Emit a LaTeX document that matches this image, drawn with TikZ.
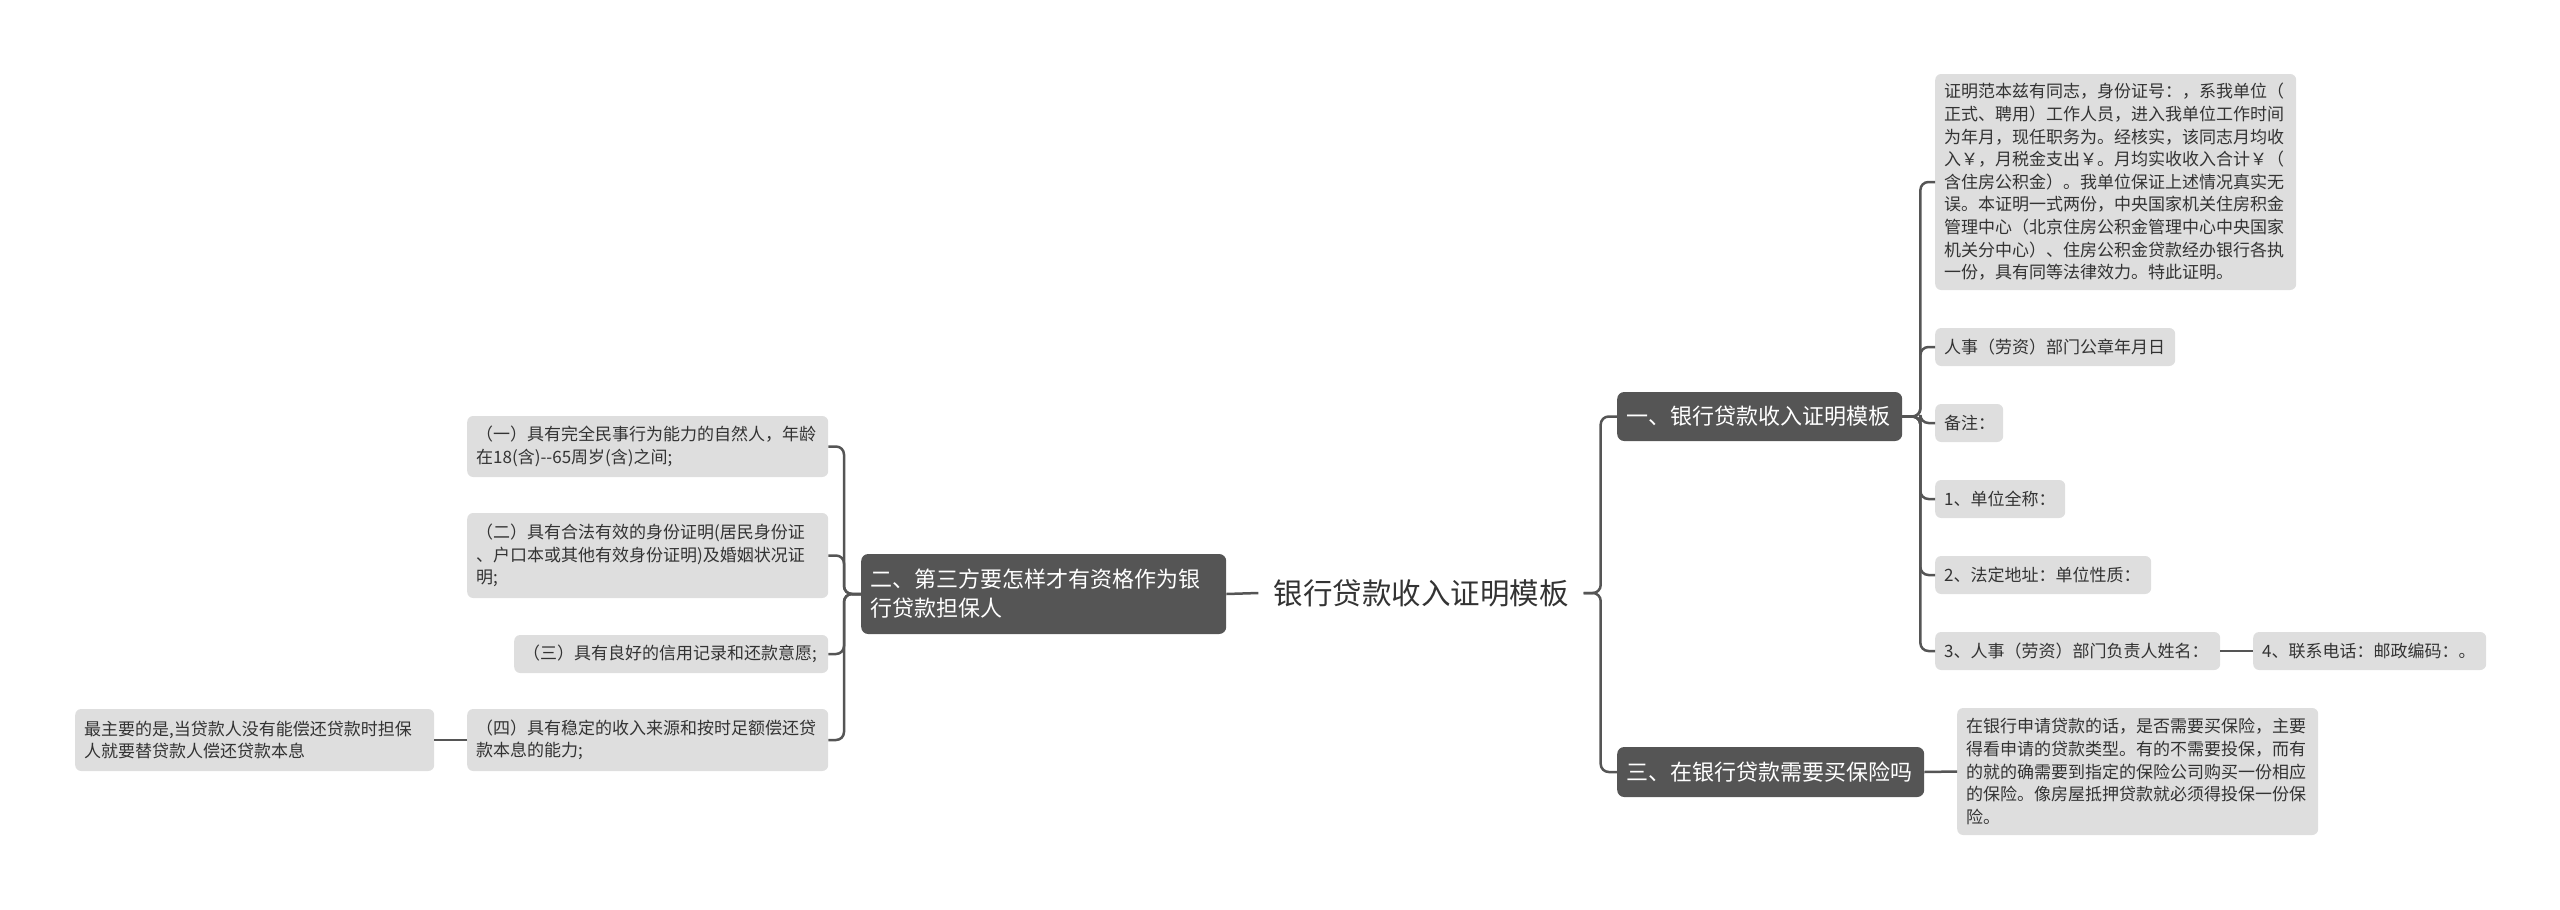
\documentclass[tikz,border=0pt]{standalone}
\usepackage{fontspec}
\setmainfont{Noto Sans CJK SC}
\definecolor{mainc}{HTML}{555555}
\definecolor{leafc}{HTML}{DEDEDE}
\definecolor{linec}{HTML}{555555}
\definecolor{textc}{HTML}{333333}
\tikzset{
  conn/.style={draw=linec, line width=2.5pt, rounded corners=8pt},
  mainbox/.style={fill=mainc, text=white, rounded corners=7pt, font=\fontsize{22}{29}\selectfont, inner xsep=9pt, inner ysep=0pt, align=left, anchor=west},
  leaf/.style={fill=leafc, text=textc, rounded corners=6pt, font=\fontsize{17}{22.6}\selectfont, inner xsep=9pt, inner ysep=0pt, align=left, anchor=west},
  roottext/.style={text=textc, font=\fontsize{29.5}{35}\selectfont, inner xsep=15pt, inner ysep=4pt}
}
\begin{document}
\begin{tikzpicture}[x=1pt,y=-1pt]
\useasboundingbox (0,0) rectangle (2560,910);
% root
\node[roottext] (root) at (1421,593) {银行贷款收入证明模板};
% left branch
\node[mainbox, text width=347pt, minimum height=80pt] (lm) at (861,594) {二、第三方要怎样才有资格作为银\\行贷款担保人};
\node[leaf, text width=343pt, minimum height=61pt] (l1) at (467,446.5) {（一）具有完全民事行为能力的自然人，年龄\\在18(含)-{}-65周岁(含)之间;};
\node[leaf, text width=343pt, minimum height=85pt] (l2) at (467,555.5) {（二）具有合法有效的身份证明(居民身份证\\、户口本或其他有效身份证明)及婚姻状况证\\明;};
\node[leaf, text width=296pt, minimum height=38pt] (l3) at (514,654) {（三）具有良好的信用记录和还款意愿;};
\node[leaf, text width=343pt, minimum height=62pt] (l4) at (467,740) {（四）具有稳定的收入来源和按时足额偿还贷\\款本息的能力;};
\node[leaf, text width=341pt, minimum height=62pt] (l5) at (75,740) {最主要的是,当贷款人没有能偿还贷款时担保\\人就要替贷款人偿还贷款本息};
% right branch
\node[mainbox, text width=267pt, minimum height=49pt] (r1) at (1617,416.5) {一、银行贷款收入证明模板};
\node[mainbox, text width=289pt, minimum height=50pt] (r2) at (1617,772) {三、在银行贷款需要买保险吗};
\node[leaf, text width=343pt, minimum height=216pt] (ra) at (1935,182) {证明范本兹有同志，身份证号：，系我单位（\\正式、聘用）工作人员，进入我单位工作时间\\为年月，现任职务为。经核实，该同志月均收\\入￥，月税金支出￥。月均实收收入合计￥（\\含住房公积金）。我单位保证上述情况真实无\\误。本证明一式两份，中央国家机关住房积金\\管理中心（北京住房公积金管理中心中央国家\\机关分中心）、住房公积金贷款经办银行各执\\一份，具有同等法律效力。特此证明。};
\node[leaf, text width=222pt, minimum height=38pt] (rb) at (1935,347) {人事（劳资）部门公章年月日};
\node[leaf, text width=50pt, minimum height=38pt] (rc) at (1935,423) {备注：};
\node[leaf, text width=112pt, minimum height=38pt] (rd) at (1935,499) {1、单位全称：};
\node[leaf, text width=198pt, minimum height=38pt] (re) at (1935,575) {2、法定地址：单位性质：};
\node[leaf, text width=267pt, minimum height=38pt] (rf) at (1935,651) {3、人事（劳资）部门负责人姓名：};
\node[leaf, text width=215pt, minimum height=38pt] (rg) at (2253,651) {4、联系电话：邮政编码：。};
\node[leaf, text width=343pt, minimum height=127pt] (rh) at (1957,771.5) {在银行申请贷款的话，是否需要买保险，主要\\得看申请的贷款类型。有的不需要投保，而有\\的就的确需要到指定的保险公司购买一份相应\\的保险。像房屋抵押贷款就必须得投保一份保\\险。};
% connectors
\draw[conn] (root.west) -- (lm.east);
\draw[conn] (root.east) -- ++(17,0) |- (r1.west);
\draw[conn] (root.east) -- ++(17,0) |- (r2.west);
\foreach \t in {l1,l2,l3,l4}{
  \draw[conn] (lm.west) -- ++(-17,0) |- (\t.east);
}
\draw[conn] (l4.west) -- (l5.east);
\foreach \t in {ra,rb,rc,rd,re,rf}{
  \draw[conn] (r1.east) -- ++(18,0) |- (\t.west);
}
\draw[conn] (rf.east) -- (rg.west);
\draw[conn] (r2.east) -- (rh.west);
\end{tikzpicture}
\end{document}
